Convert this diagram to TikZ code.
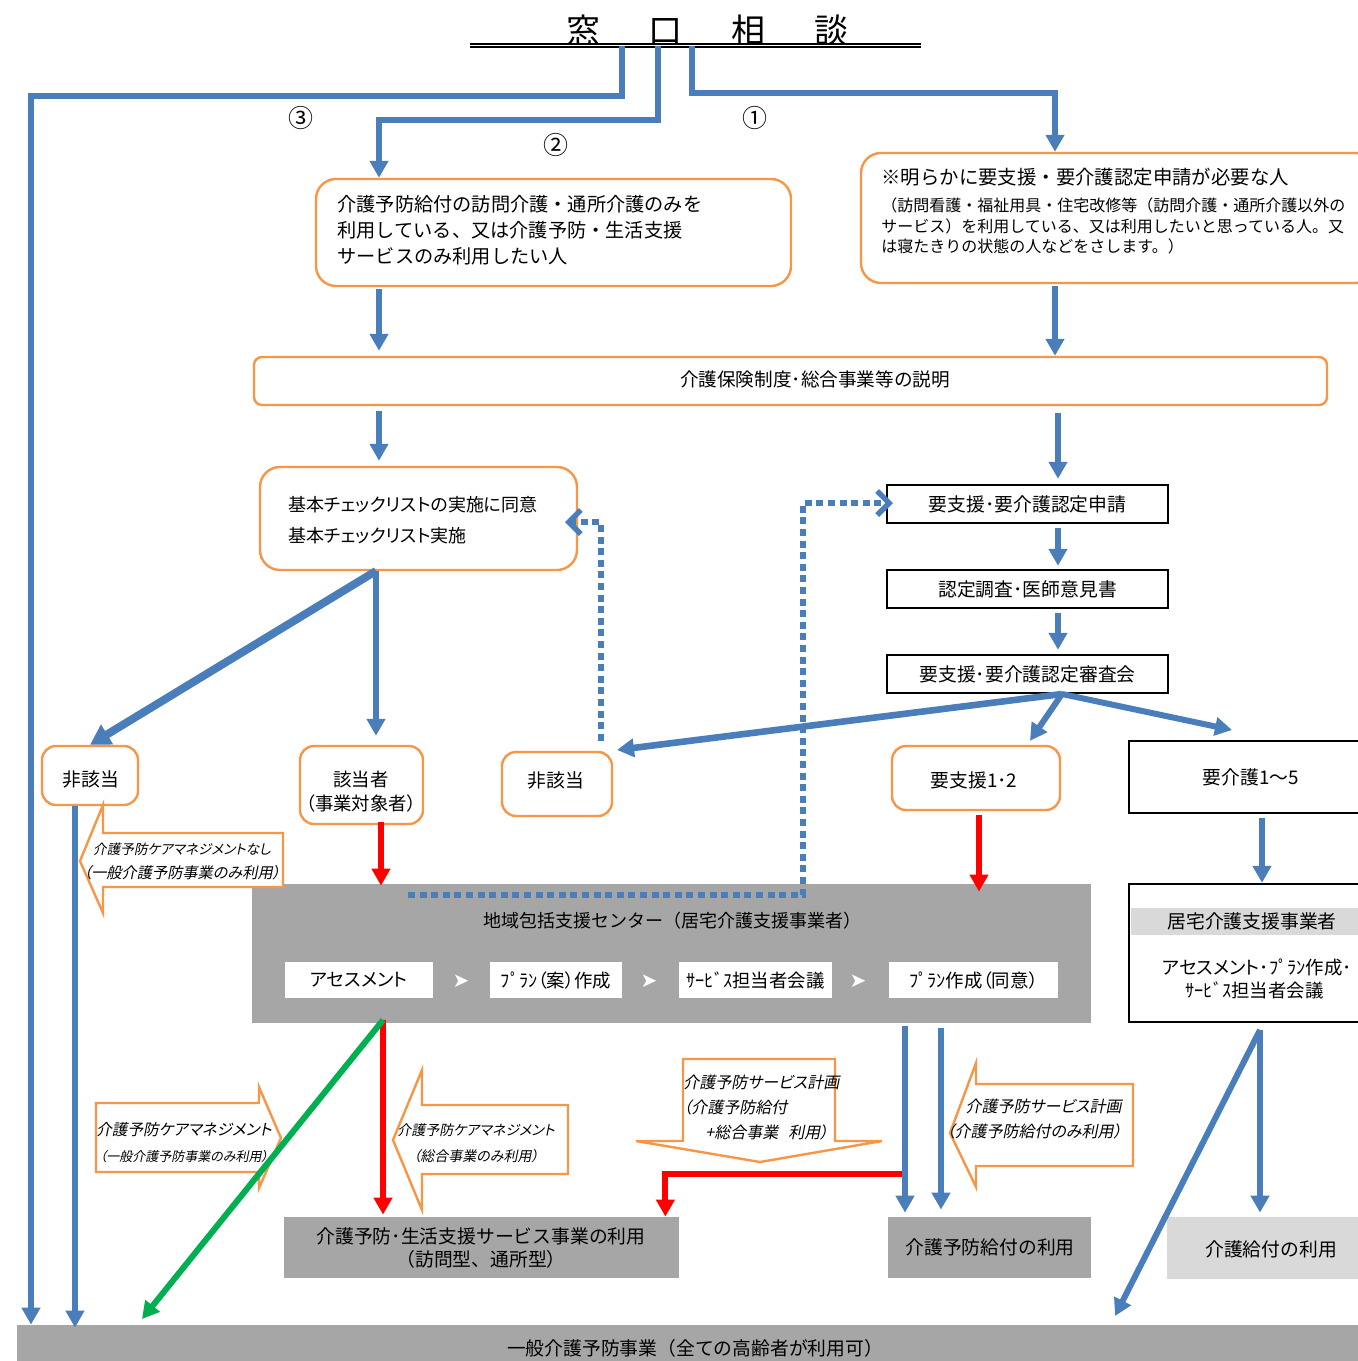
\documentclass[tikz,border=0pt]{standalone}
\usepackage{fontspec}
\usepackage{tikz}
\usetikzlibrary{arrows.meta,fit}

\newfontfamily\jp{Noto Sans CJK JP}
\newfontfamily\jpp{Noto Sans CJK JP}[RawFeature=+palt]
\newfontfamily\jpit{Noto Sans CJK JP}[RawFeature=+palt,FakeSlant=0.2]
\newfontfamily\symfont{DejaVu Sans}

\definecolor{arrblue}{HTML}{4A7EBB}
\definecolor{boxorange}{HTML}{F79646}
\definecolor{boxgray}{HTML}{A6A6A6}
\definecolor{bandgray}{HTML}{D9D9D9}
\definecolor{arrgreen}{HTML}{00B050}

\begin{document}
\begin{tikzpicture}[x=0.5pt,y=-0.5pt,
	orangebox/.style={draw=boxorange,line width=1.2pt,fill=white,rounded corners=10pt,inner sep=0pt},
	blackbox/.style={draw=black,line width=1.2pt,fill=white,inner sep=0pt},
	graybox/.style={fill=boxgray,inner sep=0pt},
	whitebox/.style={fill=white,inner sep=0pt},
	txt/.style={inner sep=0pt,align=center,font=\jp\fontsize{9.4}{11.5}\selectfont},
	ptxt/.style={inner sep=0pt,align=center,font=\jpp\fontsize{9.2}{11.5}\selectfont},
	itxt/.style={inner sep=0pt,align=center},
	arrtip/.style={-{Triangle[length=8.5pt,width=9pt]}},
	bluearr/.style={draw=arrblue,line width=3pt,arrtip},
	redarr/.style={draw=red,line width=3pt,arrtip},
	greenarr/.style={draw=arrgreen,line width=3pt,arrtip},
	dotarr/.style={draw=arrblue,line width=2.7pt,dash pattern=on 3.5pt off 2.3pt,-{Straight Barb[length=6pt,width=12pt]}},
	blockarr/.style={draw=boxorange,line width=1.2pt,fill=white},
	chev/.style={inner sep=0pt,text=white,font=\symfont\fontsize{10}{10}\selectfont}]

	\useasboundingbox (0,0) rectangle (1357,1361);

	%title
	\node[inner sep=0pt,font=\jp\fontsize{17}{17}\selectfont] (title) at (707.5,31)
		{窓\hspace{24.5pt}口\hspace{24.5pt}相\hspace{24.5pt}談};
	\coordinate (ulL) at (470,45.5);
	\coordinate (ulR) at (921,45.5);
	\draw[double,double distance=0.9pt,line width=0.6pt] (ulL) -- (ulR);

	%upper boxes
	\node[orangebox,fit={(316,179) (791,286)}] (yoboOnly) {};
	\node[inner sep=0pt,anchor=west,align=left,font=\jp\fontsize{9.6}{13}\selectfont] (yoboOnlyText) at (337,230)
		{介護予防給付の訪問介護・通所介護のみを\\利用している、又は介護予防・生活支援\\サービスのみ利用したい人};
	\node[orangebox,fit={(861,153) (1375,283)}] (ninteiNeed) {};
	\node[inner sep=0pt,anchor=west,font=\jp\fontsize{9.7}{12}\selectfont] (ninteiNeedHead) at (881,177)
		{※明らかに要支援・要介護認定申請が必要な人};
	\node[inner sep=0pt,anchor=west,align=left,font=\jp\fontsize{8}{10.25}\selectfont] (ninteiNeedText) at (881,226)
		{（訪問看護・福祉用具・住宅改修等（訪問介護・通所介護以外の\\サービス）を利用している、又は利用したいと思っている人。又\\は寝たきりの状態の人などをさします。）};

	\node[orangebox,rounded corners=4pt,fit={(254,357) (1327,405)}] (setsumei) {};
	\node[txt,font=\jp\fontsize{9.3}{12}\selectfont] (setsumeiText) at (815,379) {介護保険制度･総合事業等の説明};

	\node[orangebox,fit={(260,467) (577,570)}] (checklist) {};
	\node[inner sep=0pt,anchor=west,align=left,font=\jpp\fontsize{9}{15.5}\selectfont] (checklistText) at (288,520)
		{基本チェックリストの実施に同意\\基本チェックリスト実施};

	%certification steps
	\node[blackbox,fit={(887,485) (1168,523)}] (shinsei) {};
	\node[txt] (shinseiText) at (shinsei) {要支援･要介護認定申請};
	\node[blackbox,fit={(887,570) (1168,608)}] (chousa) {};
	\node[txt] (chousaText) at (chousa) {認定調査･医師意見書};
	\node[blackbox,fit={(887,655) (1168,693)}] (shinsa) {};
	\node[txt] (shinsaText) at (shinsa) {要支援･要介護認定審査会};

	%results
	\node[orangebox,rounded corners=7pt,fit={(42,746) (138,805)}] (higaitouA) {};
	\node[txt] (higaitouAText) at (91,779) {非該当};
	\node[orangebox,rounded corners=7pt,fit={(300,746) (423,824)}] (gaitou) {};
	\node[ptxt,font=\jpp\fontsize{9.2}{12}\selectfont] (gaitouText) at (361,792) {該当者\\（事業対象者）};
	\node[orangebox,rounded corners=7pt,fit={(502,752) (612,816)}] (higaitouB) {};
	\node[txt] (higaitouBText) at (556,780) {非該当};
	\node[orangebox,rounded corners=7pt,fit={(892,746) (1060,810)}] (youshien) {};
	\node[txt] (youshienText) at (974,780) {要支援1･2};
	\node[blackbox,fit={(1129,741) (1375,813)}] (youkaigo) {};
	\node[txt] (youkaigoText) at (1251,777) {要介護1～5};

	%center
	\node[graybox,fit={(252,884) (1091,1023)}] (houkatsu) {};
	\node[txt,font=\jp\fontsize{9}{12}\selectfont] (houkatsuText) at (672,921) {地域包括支援センター（居宅介護支援事業者）};
	\node[whitebox,fit={(285,962) (433,998)}] (assess) {};
	\node[ptxt] (assessText) at (assess) {アセスメント};
	\node[whitebox,fit={(490,962) (622,998)}] (planDraft) {};
	\node[ptxt] (planDraftText) at (planDraft) {{\jp ﾌﾟﾗﾝ}（案）作成};
	\node[whitebox,fit={(679,962) (832,998)}] (meeting) {};
	\node[ptxt] (meetingText) at (meeting) {{\jp ｻｰﾋﾞｽ}担当者会議};
	\node[whitebox,fit={(889,962) (1058,998)}] (planAgree) {};
	\node[ptxt] (planAgreeText) at (planAgree) {{\jp ﾌﾟﾗﾝ}作成（同意）};
	\foreach \cx/\nm in {461/a,649/b,858/c}
		\node[chev] (chev\nm) at (\cx,981) {➤};

	\node[blackbox,fit={(1129,884) (1375,1022)}] (kyotaku) {};
	\node[fill=bandgray,inner sep=0pt,fit={(1131,908) (1375,935)}] (kyotakuHead) {};
	\node[txt] (kyotakuHeadText) at (1252,921) {居宅介護支援事業者};
	\node[inner sep=0pt,anchor=west,align=left,font=\jpp\fontsize{9.2}{11.5}\selectfont] (kyotakuText) at (1162,979)
		{アセスメント･{\jp ﾌﾟﾗﾝ}作成･\\\hspace*{11.5pt}{\jp ｻｰﾋﾞｽ}担当者会議};

	%services
	\node[graybox,fit={(284,1217) (679,1278)}] (seikatsu) {};
	\node[txt] (seikatsuText) at (481,1248) {介護予防･生活支援サービス事業の利用\\（訪問型、通所型）};
	\node[graybox,fit={(888,1217) (1091,1278)}] (kyufu) {};
	\node[txt] (kyufuText) at (990,1247) {介護予防給付の利用};
	\node[fill=bandgray,inner sep=0pt,fit={(1167,1217) (1375,1279)}] (kaigokyufu) {};
	\node[txt] (kaigokyufuText) at (1271,1249) {介護給付の利用};
	\node[graybox,fit={(17,1325) (1375,1372)}] (ippan) {};
	\node[txt] (ippanText) at (695,1348) {一般介護予防事業（全ての高齢者が利用可）};

	%block arrows
	\draw[blockarr] (80,861) -- (103,805) -- (103,833) -- (283,833) -- (283,887) -- (103,887) -- (103,913) -- cycle;
	\node[itxt,font=\jpit\fontsize{7.6}{12}\selectfont] (nashiText) at (182,861)
		{{\fontsize{6.8}{12}\selectfont 介護予防ケアマネジメントなし}\\（一般介護予防事業のみ利用）};
	\draw[blockarr] (96,1103) -- (259,1103) -- (259,1087) -- (281,1138) -- (259,1188) -- (259,1172) -- (96,1172) -- cycle;
	\node[itxt,font=\jpit\fontsize{7.8}{13}\selectfont] (ippanOnlyText) at (184,1143)
		{介護予防ケアマネジメント\\{\fontsize{6.5}{13}\selectfont （一般介護予防事業のみ利用）}};
	\draw[blockarr] (393,1140) -- (422,1070) -- (422,1105) -- (568,1105) -- (568,1174) -- (422,1174) -- (422,1210) -- cycle;
	\node[itxt,font=\jpit\fontsize{7}{13}\selectfont] (sougouOnlyText) at (476,1143)
		{介護予防ケアマネジメント\\（総合事業のみ利用）};
	\draw[blockarr] (683,1059) -- (835,1059) -- (835,1141) -- (882,1141) -- (760,1162) -- (636,1141) -- (683,1141) -- cycle;
	\node[itxt,anchor=west,align=left,font=\jpit\fontsize{8}{12.5}\selectfont] (planBothText) at (683,1108)
		{介護予防サービス計画\\（介護予防給付\\\hspace*{11pt}+総合事業\hspace{5pt}利用）};
	\draw[blockarr] (950,1133) -- (976,1063) -- (976,1084) -- (1133,1084) -- (1133,1166) -- (976,1166) -- (976,1187) -- cycle;
	\node[itxt,anchor=east,align=right,font=\jpit\fontsize{8}{12.5}\selectfont] (kyufuOnlyText) at (1122,1119)
		{介護予防サービス計画\\（介護予防給付のみ利用）};

	%routes from the counter
	\coordinate (r3) at (622,46);
	\coordinate (r2) at (658,46);
	\coordinate (r1) at (692,46);
	\coordinate (c3) at (31,96);
	\coordinate (c2) at (379,120);
	\coordinate (c1) at (1055,93);
	\draw[bluearr] (r3) |- (c3) -- (c3 |- ippan.north);
	\draw[bluearr] (r2) |- (c2) -- (c2 |- yoboOnly.north);
	\draw[bluearr] (r1) |- (c1) -- (c1 |- ninteiNeed.north);
	\node[inner sep=0pt,font=\jp\fontsize{12.5}{13}\selectfont] (no3) at (301,118) {③};
	\node[inner sep=0pt,font=\jp\fontsize{12.5}{13}\selectfont] (no2) at (556,145) {②};
	\node[inner sep=0pt,font=\jp\fontsize{12.5}{13}\selectfont] (no1) at (755,118) {①};

	%upper edges
	\draw[bluearr,shorten <=1pt,shorten >=2.5pt] (c2 |- yoboOnly.south) -- (c2 |- setsumei.north);
	\draw[bluearr,shorten <=1pt] (c1 |- ninteiNeed.south) -- (c1 |- setsumei.north);
	\draw[bluearr,shorten <=2.5pt,shorten >=2.5pt] (c2 |- setsumei.south) -- (c2 |- checklist.north);
	\coordinate (cx) at (1058,500);
	\draw[bluearr,shorten <=3.5pt,shorten >=2.5pt] (cx |- setsumei.south) -- (cx |- shinsei.north);
	\draw[bluearr,shorten <=2pt,shorten >=1.5pt] (cx |- shinsei.south) -- (cx |- chousa.north);
	\draw[bluearr,shorten <=2pt,shorten >=2pt] (cx |- chousa.south) -- (cx |- shinsa.north);

	%results of the review
	\coordinate (gs) at (1062,694);
	\coordinate (tipB) at (617,750);
	\coordinate (tipK) at (1232,730);
	\draw[bluearr,line width=3.3pt] (gs) -- (tipB);
	\draw[bluearr] (gs) -- ([xshift=27pt,yshift=2pt]youshien.north);
	\draw[bluearr] (gs) -- (tipK);

	%results of the checklist
	\coordinate (ds) at (376,571);
	\draw[draw=arrblue,line width=4pt,-{Triangle[length=10pt,width=11pt]}] (ds) -- (higaitouA.north);
	\draw[bluearr,shorten >=4.5pt] (ds) -- (ds |- gaitou.north);
	\coordinate (hx) at (75,806);
	\draw[bluearr,shorten >=-1.5pt] (hx) -- (hx |- ippan.north);

	%dotted edges
	\coordinate (dx) at (601,522);
	\coordinate (tipD) at (565,522);
	\draw[dotarr,shorten <=5pt] (dx |- higaitouB.north) -- (dx) -- (tipD);
	\coordinate (dh) at (408,895);
	\coordinate (dv) at (803,503);
	\coordinate (tipE) at (893,503);
	\draw[dotarr] (dh) -| (dv) -- (tipE);

	%red edges
	\coordinate (rx) at (381,822);
	\draw[redarr,shorten >=-1pt] (rx) -- (rx |- houkatsu.north);
	\coordinate (ry) at (979,815);
	\draw[redarr,shorten >=-4pt] (ry) -- (ry |- houkatsu.north);
	\coordinate (cs) at (383,1020);
	\draw[redarr,shorten >=1pt] (cs) -- (cs |- seikatsu.north);
	\coordinate (rl) at (905,1174);
	\draw[redarr] (rl) -| ([xshift=-7pt]seikatsu.north east);

	%lower edges
	\coordinate (k1) at (905,1026);
	\coordinate (k2) at (941,1028);
	\draw[bluearr,shorten >=2pt] (k1) -- (k1 |- kyufu.north);
	\draw[bluearr,shorten >=3.5pt] (k2) -- (k2 |- kyufu.north);
	\coordinate (tipG) at (142,1319);
	\draw[greenarr] (cs) -- (tipG);
	\coordinate (ky) at (1262,818);
	\draw[bluearr] (ky) -- (ky |- kyotaku.north);
	\coordinate (kz) at (1260,1030);
	\coordinate (tipI) at (1115,1316);
	\draw[bluearr,shorten >=2pt] (kz) -- (kz |- kaigokyufu.north);
	\draw[bluearr] (kz) -- (tipI);
\end{tikzpicture}
\end{document}
